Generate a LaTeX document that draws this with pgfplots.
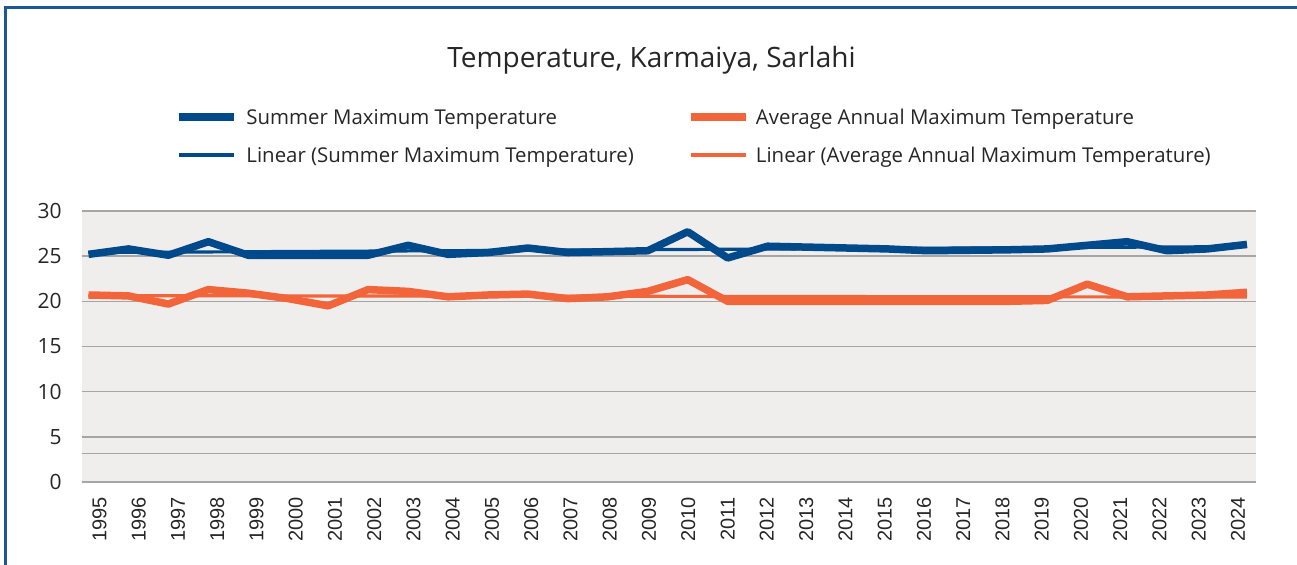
\documentclass[border=0pt]{standalone}
\usepackage{fontspec}
\setmainfont{Open Sans}
\newfontfamily\arialf{Liberation Sans}
\usepackage{pgfplots}
\pgfplotsset{compat=1.18}
\definecolor{tkBlue}{HTML}{004A8B}
\definecolor{tkOrange}{HTML}{F2643A}
\definecolor{tkBg}{HTML}{EFEEED}
\definecolor{tkGrid}{HTML}{A5A5A5}
\definecolor{tkFrame}{HTML}{1D5795}
\definecolor{tkText}{HTML}{262626}

\begin{document}
\begin{tikzpicture}
\path[use as bounding box] (0,0) rectangle (648.5pt,282.5pt);
\draw[tkFrame, line width=1.2pt] (2.75pt,-2pt) -- (2.75pt,278.75pt) -- (652pt,278.75pt);
\node[anchor=base, font=\fontsize{14}{16}\selectfont, text=tkText, inner sep=0pt]
  at (325.75pt,248.5pt) {Temperature, Karmaiya, Sarlahi};
\begin{axis}[
  at={(40.75pt,41.5pt)}, anchor=south west,
  scale only axis, width=587.25pt, height=135.5pt,
  xmin=1994.825, xmax=2024.226, ymin=0, ymax=30,
  axis background/.style={fill=tkBg},
  axis line style={draw=none}, tick style={draw=none},
  ytick={0,5,10,15,20,25,30},
  ymajorgrids, grid style={tkGrid, line width=0.75pt},
  extra y ticks={3.13}, extra y tick labels={},
  extra tick style={grid=major},
  yticklabel style={font=\fontsize{10.5}{12}\selectfont, text=tkText, inner sep=0pt, anchor=east},
  yticklabel shift=9.75pt,
  /pgf/number format/assume math mode=true,
  xtick={1995.275,1996.258,1997.240,1998.223,1999.206,2000.189,2001.171,2002.154,2003.137,2004.119,
         2005.102,2006.085,2007.068,2008.050,2009.033,2010.016,2010.999,2011.981,2012.964,2013.947,
         2014.929,2015.912,2016.895,2017.878,2018.860,2019.843,2020.826,2021.808,2022.791,2023.774},
  xticklabels={1995,1996,1997,1998,1999,2000,2001,2002,2003,2004,2005,2006,2007,2008,2009,
               2010,2011,2012,2013,2014,2015,2016,2017,2018,2019,2020,2021,2022,2023,2024},
  xticklabel style={font=\arialf\fontsize{10}{12}\selectfont, text=tkText, inner sep=0pt, rotate=90, anchor=east},
  xticklabel shift=7.5pt,
  legend columns=2,
  legend image code/.code={\draw[#1] (0pt,0pt) -- (27.5pt,0pt);},
  legend style={at={(0.0796,1.417)}, anchor=north west, draw=none, fill=none,
    inner sep=0pt, outer sep=0pt, row sep=0pt,
    font=\fontsize{10.2}{12}\selectfont, text=tkText,
    nodes={inner sep=0pt, text height=13.1pt, text depth=5.9pt, anchor=west},
    /tikz/column 1/.style={column sep=4.5pt},
    /tikz/column 2/.style={column sep=0pt},
    /tikz/column 3/.style={column sep=3pt}},
]
\addplot[tkBlue, line width=3.75pt, line join=round] coordinates {
  (1995,25.2)(1996,25.8)(1997,25.1)(1998,26.6)(1999,25.1)(2000,25.1)(2001,25.1)(2002,25.1)
  (2003,26.2)(2004,25.2)(2005,25.4)(2006,25.9)(2007,25.4)(2008,25.5)(2009,25.6)(2010,27.7)
  (2011,24.8)(2012,26.1)(2013,26.0)(2014,25.9)(2015,25.8)(2016,25.6)(2017,25.65)(2018,25.7)
  (2019,25.8)(2020,26.2)(2021,26.6)(2022,25.6)(2023,25.8)(2024,26.3)};
\addlegendentry{\makebox[220.5pt][l]{Summer Maximum Temperature}}
\addplot[tkOrange, line width=3.75pt, line join=round] coordinates {
  (1995,20.7)(1996,20.6)(1997,19.7)(1998,21.3)(1999,20.9)(2000,20.3)(2001,19.5)(2002,21.3)
  (2003,21.1)(2004,20.5)(2005,20.7)(2006,20.8)(2007,20.3)(2008,20.5)(2009,21.1)(2010,22.4)
  (2011,20.0)(2012,20.0)(2013,20.0)(2014,20.0)(2015,20.0)(2016,20.0)(2017,20.0)(2018,20.0)
  (2019,20.1)(2020,21.9)(2021,20.5)(2022,20.6)(2023,20.7)(2024,21.0)};
\addlegendentry{Average Annual Maximum Temperature}
\addplot[tkBlue, line width=1.6pt] coordinates {(1995,25.40)(2024,26.06)};
\addlegendentry{\makebox[220.5pt][l]{Linear (Summer Maximum Temperature)}}
\addplot[tkOrange, line width=1.6pt] coordinates {(1995,20.63)(2024,20.47)};
\addlegendentry{Linear (Average Annual Maximum Temperature)}
\end{axis}
\end{tikzpicture}
\end{document}
